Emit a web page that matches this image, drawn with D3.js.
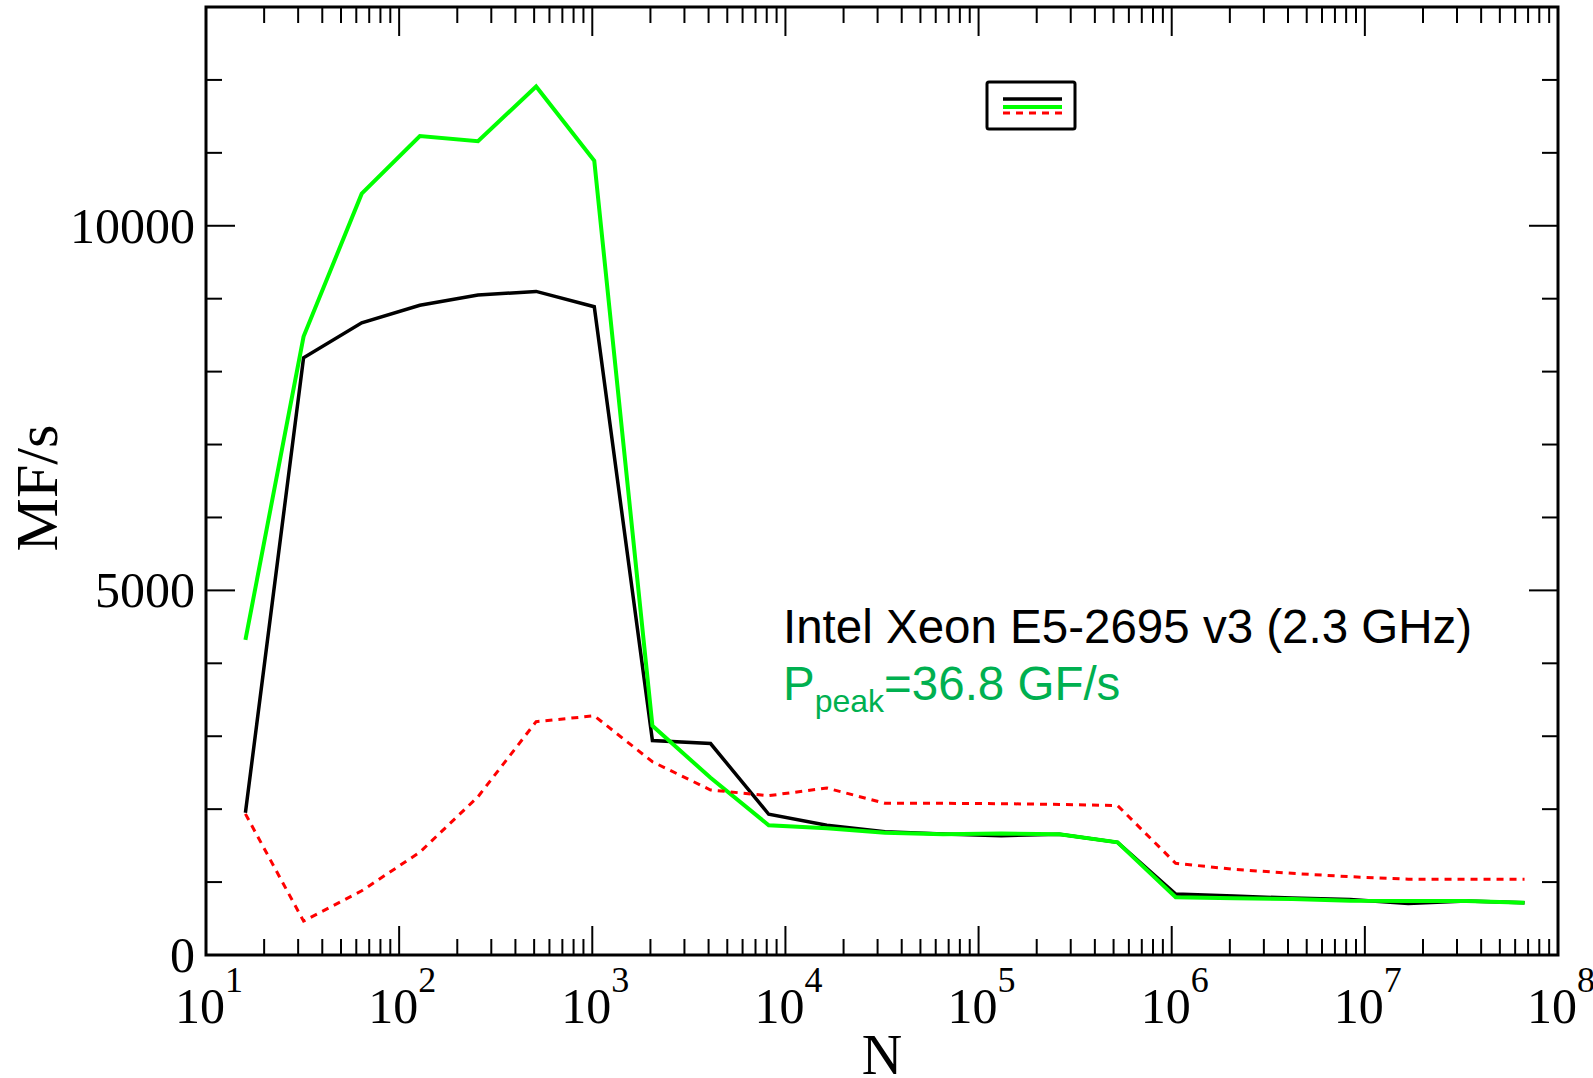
<!DOCTYPE html>
<html>
<head>
  <meta charset="utf-8" />
  <title>MF/s vs N</title>
  <script src="https://d3js.org/d3.v7.min.js"></script>
  <style>
    body { margin: 0; background: #fff; }
    svg { display: block; }
    .serif { font-family: "Liberation Serif", "Times New Roman", serif; fill: #000; }
    .sans { font-family: "Liberation Sans", Arial, sans-serif; }
  </style>
</head>
<body>
<svg id="chart" width="1593" height="1078"></svg>
<script>
  // problem size N (powers of two, 2^4 .. 2^26)
  var sizes = [16, 32, 64, 128, 256, 512, 1024, 2048, 4096, 8192, 16384, 32768,
    65536, 131072, 262144, 524288, 1048576, 2097152, 4194304, 8388608,
    16777216, 33554432, 67108864];

  // MF/s
  var blackVals = [1950, 8190, 8670, 8910, 9050, 9100, 8890, 2940, 2900, 1930,
    1780, 1690, 1660, 1636, 1655, 1545, 836, 809, 780, 760, 705, 740, 718];
  var greenVals = [4320, 8480, 10440, 11230, 11160, 11910, 10890, 3145, 2430, 1780,
    1737, 1677, 1655, 1665, 1655, 1545, 791, 777, 768, 745, 742, 742, 718];
  var redVals = [1935, 465, 880, 1410, 2170, 3200, 3280, 2650, 2263, 2185,
    2290, 2080, 2080, 2075, 2065, 2050, 1257, 1175, 1120, 1074, 1040, 1040, 1038];

  var yMajor = [0, 5000, 10000];
  var cpuLabel = "Intel Xeon E5-2695 v3 (2.3 GHz)";
  var peakLabel = "=36.8 GF/s";

  // plot box (window.top is reserved, so use prefixed names)
  var pLeft = 206, pRight = 1558, pTop = 7, pBottom = 955;
  var svg = d3.select("#chart");

  var x = d3.scaleLog().domain([10, 1e8]).range([pLeft, pRight]);
  var y = d3.scaleLinear().domain([0, 13000]).range([pBottom, pTop]);

  var isMajorX = function (v) {
    var l = Math.log10(v);
    return Math.abs(l - Math.round(l)) < 1e-9;
  };

  // ticks on all four sides, pointing inward
  var g = svg.append("g").attr("stroke", "#000").attr("stroke-width", 2);
  x.ticks().forEach(function (v) {
    var len = isMajorX(v) ? 29 : 16;
    var px = x(v);
    g.append("line").attr("x1", px).attr("x2", px).attr("y1", pBottom).attr("y2", pBottom - len);
    g.append("line").attr("x1", px).attr("x2", px).attr("y1", pTop).attr("y2", pTop + len);
  });
  y.ticks(13).forEach(function (v) {
    var len = (v % 5000 === 0) ? 29 : 16;
    var py = y(v);
    g.append("line").attr("x1", pLeft).attr("x2", pLeft + len).attr("y1", py).attr("y2", py);
    g.append("line").attr("x1", pRight).attr("x2", pRight - len).attr("y1", py).attr("y2", py);
  });

  // series
  var line = d3.line()
    .x(function (d) { return x(d[0]); })
    .y(function (d) { return y(d[1]); });

  var zip = function (vals) { return sizes.map(function (n, i) { return [n, vals[i]]; }); };

  svg.append("path").datum(zip(blackVals)).attr("d", line)
    .attr("fill", "none").attr("stroke", "#000").attr("stroke-width", 3.5);
  svg.append("path").datum(zip(greenVals)).attr("d", line)
    .attr("fill", "none").attr("stroke", "#00ff00").attr("stroke-width", 4);
  svg.append("path").datum(zip(redVals)).attr("d", line)
    .attr("fill", "none").attr("stroke", "#ff0000").attr("stroke-width", 3)
    .attr("stroke-dasharray", "7,6");

  // frame
  svg.append("rect").attr("x", pLeft).attr("y", pTop)
    .attr("width", pRight - pLeft).attr("height", pBottom - pTop)
    .attr("fill", "none").attr("stroke", "#000").attr("stroke-width", 3);

  // x tick labels 10^k
  x.ticks().filter(isMajorX).forEach(function (v) {
    var k = Math.round(Math.log10(v));
    var t = svg.append("text").attr("class", "serif")
      .attr("x", x(v) + 3).attr("y", 1023)
      .attr("text-anchor", "middle").attr("font-size", 50);
    t.append("tspan").text("10");
    t.append("tspan").attr("dy", -31).attr("font-size", 36).text(k);
  });

  // y tick labels
  yMajor.forEach(function (v) {
    svg.append("text").attr("class", "serif")
      .attr("x", 195).attr("y", y(v) + 17)
      .attr("text-anchor", "end").attr("font-size", 50)
      .text(v);
  });

  // axis titles
  svg.append("text").attr("class", "serif")
    .attr("x", (pLeft + pRight) / 2).attr("y", 1074)
    .attr("text-anchor", "middle").attr("font-size", 56)
    .text("N");
  svg.append("text").attr("class", "serif")
    .attr("transform", "translate(57,488) rotate(-90)")
    .attr("text-anchor", "middle").attr("font-size", 60)
    .text("MF/s");

  // legend box (no labels)
  var lg = svg.append("g");
  lg.append("rect").attr("x", 987).attr("y", 82).attr("width", 88).attr("height", 47)
    .attr("rx", 2).attr("fill", "#fff").attr("stroke", "#000").attr("stroke-width", 3);
  lg.append("line").attr("x1", 1003).attr("x2", 1062).attr("y1", 99).attr("y2", 99)
    .attr("stroke", "#000").attr("stroke-width", 3.5);
  lg.append("line").attr("x1", 1003).attr("x2", 1062).attr("y1", 107).attr("y2", 107)
    .attr("stroke", "#00ff00").attr("stroke-width", 4);
  lg.append("line").attr("x1", 1003).attr("x2", 1062).attr("y1", 113).attr("y2", 113)
    .attr("stroke", "#ff0000").attr("stroke-width", 3).attr("stroke-dasharray", "7,6");

  // annotation
  svg.append("text").attr("class", "sans")
    .attr("x", 783).attr("y", 643).attr("font-size", 47.5).attr("fill", "#000")
    .text(cpuLabel);
  var pk = svg.append("text").attr("class", "sans")
    .attr("x", 783).attr("y", 700).attr("font-size", 47.5).attr("fill", "#00b050");
  pk.append("tspan").text("P");
  pk.append("tspan").attr("dy", 12).attr("font-size", 32).text("peak");
  pk.append("tspan").attr("dy", -12).text(peakLabel);
</script>
</body>
</html>
